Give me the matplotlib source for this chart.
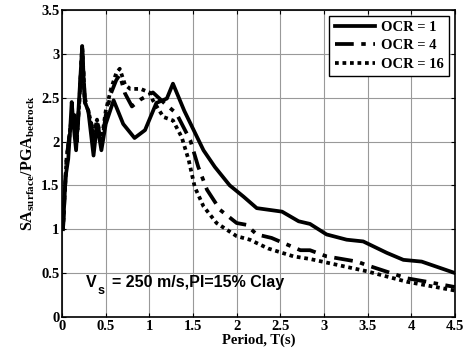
import numpy as np
import matplotlib
matplotlib.use("Agg")
import matplotlib.pyplot as plt

plt.rcParams["font.family"] = "Liberation Serif"
plt.rcParams["font.weight"] = "bold"
plt.rcParams["mathtext.fontset"] = "custom"
plt.rcParams["mathtext.rm"] = "Liberation Serif:bold"
plt.rcParams["mathtext.it"] = "Liberation Serif:bold"
plt.rcParams["mathtext.bf"] = "Liberation Serif:bold"

# OCR = 1
t_ocr1 = [0.01, 0.04, 0.07, 0.09, 0.11, 0.13, 0.16, 0.19, 0.23, 0.26, 0.30, 0.36, 0.40, 0.45,
          0.50, 0.59, 0.70, 0.83, 0.95, 1.08, 1.20, 1.27, 1.40, 1.62, 1.75, 1.92, 2.08, 2.23,
          2.52, 2.71, 2.84, 3.03, 3.26, 3.45, 3.72, 3.91, 4.12, 4.50]
sa_ocr1 = [1.00, 1.60, 1.80, 2.10, 2.45, 2.20, 1.90, 2.40, 3.09, 2.45, 2.35, 1.84, 2.20, 1.90,
           2.20, 2.47, 2.20, 2.04, 2.13, 2.44, 2.49, 2.66, 2.35, 1.90, 1.71, 1.50, 1.37, 1.24,
           1.20, 1.09, 1.06, 0.94, 0.88, 0.86, 0.73, 0.65, 0.63, 0.50]

# OCR = 4
t_ocr4 = [0.01, 0.05, 0.10, 0.14, 0.17, 0.20, 0.23, 0.26, 0.30, 0.36, 0.40, 0.45, 0.50, 0.56,
          0.62, 0.66, 0.72, 0.80, 0.90, 1.04, 1.18, 1.31, 1.47, 1.56, 1.66, 1.81, 2.00, 2.11,
          2.23, 2.40, 2.73, 2.84, 3.03, 3.38, 3.49, 3.95, 4.18, 4.50]
sa_ocr4 = [1.00, 1.80, 2.20, 2.30, 2.00, 2.50, 3.05, 2.50, 2.35, 2.05, 2.25, 1.95, 2.30, 2.55,
           2.70, 2.76, 2.55, 2.40, 2.48, 2.56, 2.43, 2.32, 2.01, 1.71, 1.45, 1.22, 1.07, 1.05,
           0.94, 0.90, 0.76, 0.76, 0.69, 0.63, 0.59, 0.44, 0.40, 0.34]

# OCR = 16
t_ocr16 = [0.01, 0.05, 0.10, 0.14, 0.17, 0.20, 0.23, 0.26, 0.30, 0.36, 0.40, 0.45, 0.50, 0.56,
           0.62, 0.66, 0.72, 0.78, 0.90, 1.00, 1.04, 1.16, 1.27, 1.37, 1.45, 1.52, 1.62, 1.77,
           2.00, 2.15, 2.36, 2.65, 2.84, 3.49, 3.95, 4.50]
sa_ocr16 = [1.00, 1.80, 2.20, 2.30, 2.05, 2.50, 3.10, 2.45, 2.35, 2.10, 2.25, 2.00, 2.35, 2.60,
            2.78, 2.83, 2.65, 2.60, 2.60, 2.56, 2.47, 2.28, 2.24, 2.05, 1.79, 1.48, 1.26, 1.07,
            0.92, 0.88, 0.78, 0.69, 0.66, 0.52, 0.40, 0.30]

xticks = [0, 0.5, 1, 1.5, 2, 2.5, 3, 3.5, 4, 4.5]
yticks = [0, 0.5, 1, 1.5, 2, 2.5, 3, 3.5]

fig = plt.figure(figsize=(4.67, 3.58), dpi=100)
ax = fig.add_axes([0.133, 0.115, 0.841, 0.857])

ax.plot(t_ocr1, sa_ocr1, color="black", lw=2.7, ls="-", label="OCR = 1")
ax.plot(t_ocr4, sa_ocr4, color="black", lw=2.7, ls=(0, (5, 2, 1.2, 2)), label="OCR = 4")
ax.plot(t_ocr16, sa_ocr16, color="black", lw=2.7, ls=(0, (1, 1)), label="OCR = 16")

ax.set_xlim(0, 4.5)
ax.set_ylim(0, 3.5)
ax.set_xticks(xticks)
ax.set_yticks(yticks)
ax.set_xticklabels([f"{v:g}" for v in xticks])
ax.set_yticklabels([f"{v:g}" for v in yticks])
ax.grid(True, color="#999999", lw=0.8)
ax.tick_params(direction="in", top=True, right=True, labelsize=10.5, length=3, pad=2)
for s in ax.spines.values():
    s.set_linewidth(1.2)

ax.set_xlabel("Period, T(s)", fontsize=10.5, fontweight="bold", labelpad=1)
ax.set_ylabel(r"$\mathrm{SA_{surface}/PGA_{bedrock}}$", fontsize=11.5, labelpad=3)

ax.text(0.27, 0.39, "V", fontsize=11.5, fontweight="bold",
        family="Liberation Sans", va="center", ha="left")
ax.text(0.41, 0.29, "s", fontsize=9, fontweight="bold",
        family="Liberation Sans", va="center", ha="left")
ax.text(0.57, 0.39, "= 250 m/s,PI=15% Clay", fontsize=11.5, fontweight="bold",
        family="Liberation Sans", va="center", ha="left")

leg = ax.legend(loc="upper right", fontsize=10.5, handlelength=2.8, borderaxespad=0.4,
                fancybox=False, edgecolor="black", framealpha=1, labelspacing=0.35,
                handletextpad=0.4, borderpad=0.35)
leg.get_frame().set_linewidth(1.0)

fig.savefig("out.png", dpi=100)
